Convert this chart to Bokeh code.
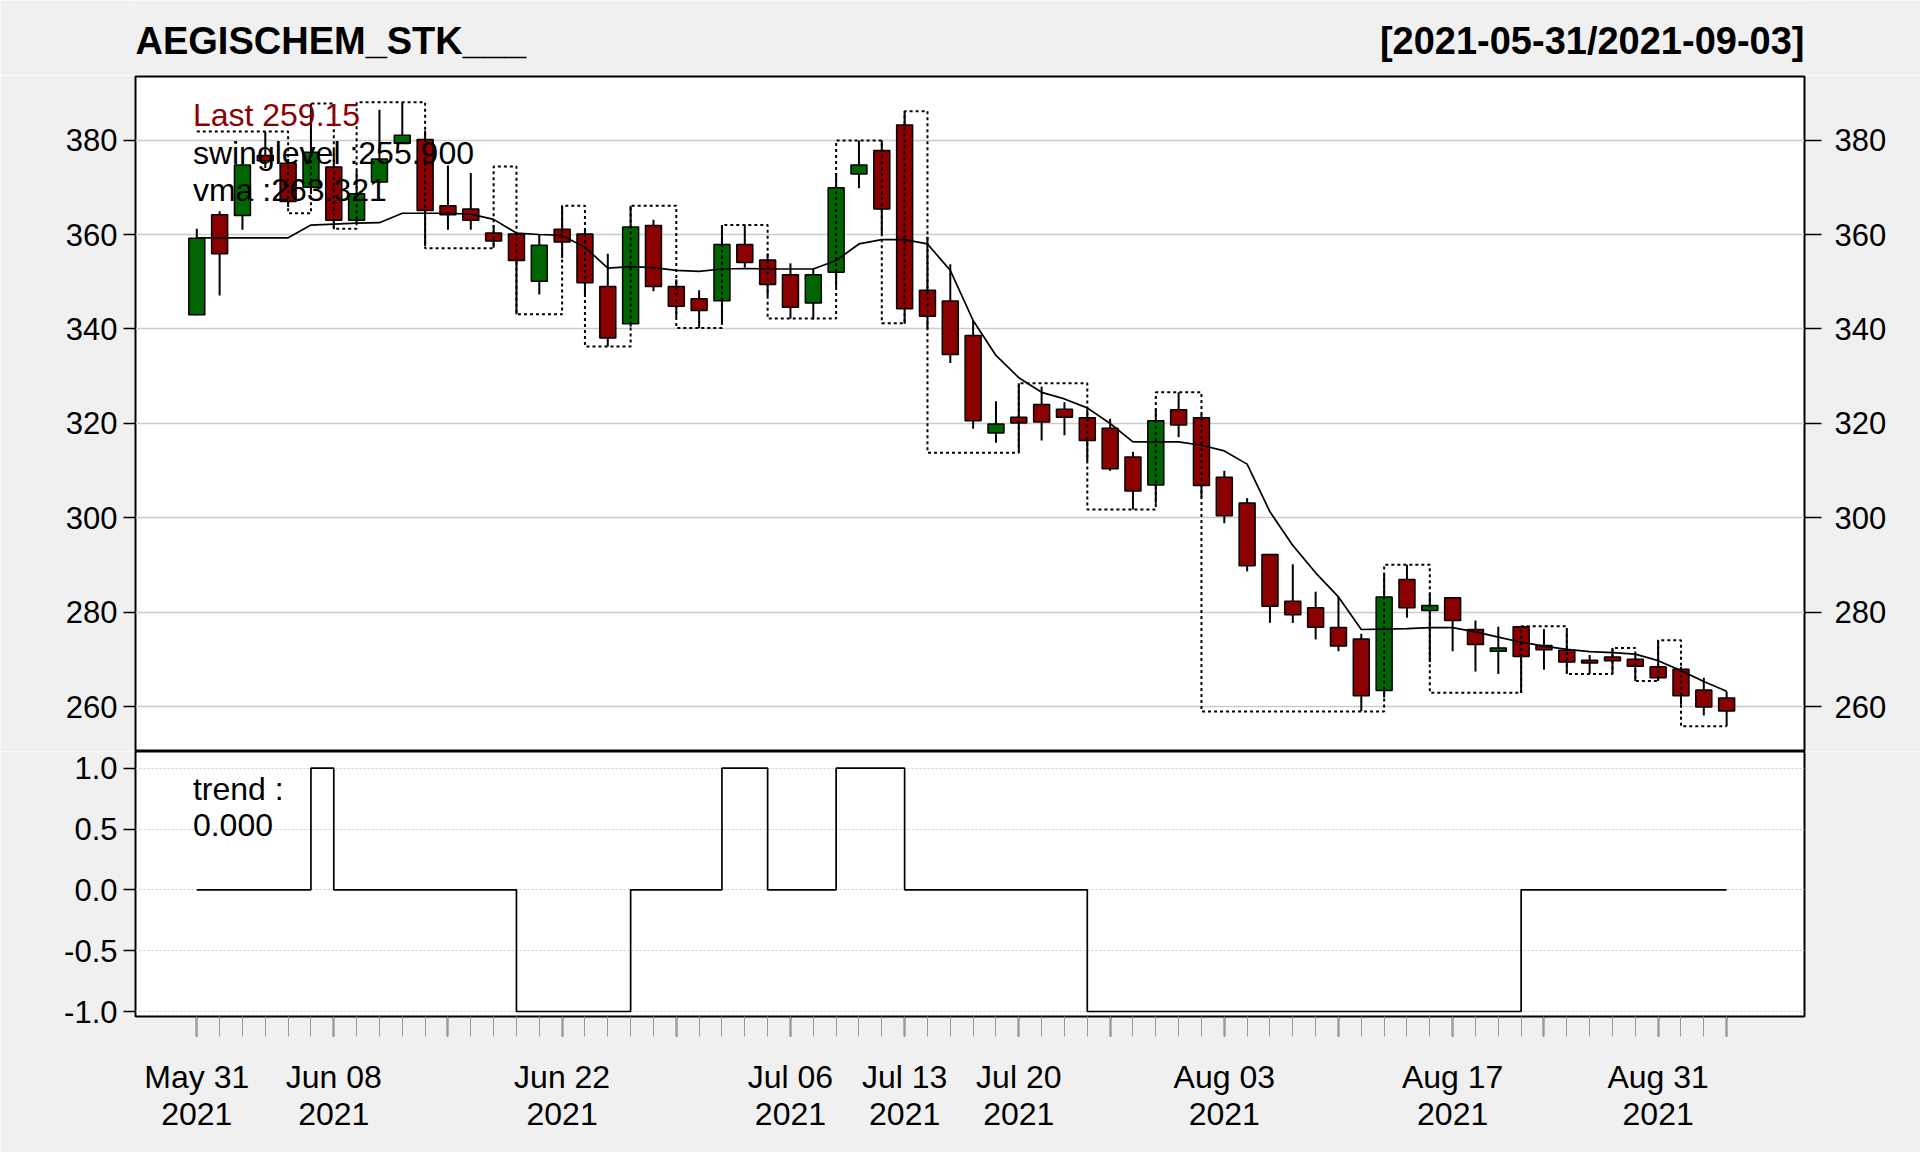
import datetime as dt
from bokeh.plotting import figure
from bokeh.models import Range1d, LinearAxis, FixedTicker, Label, PrintfTickFormatter
from bokeh.layouts import column
from bokeh.embed import file_html
from bokeh.resources import INLINE

# ---------------- data ----------------
dates = [
    "2021-05-31", "2021-06-01", "2021-06-02", "2021-06-03", "2021-06-04",
    "2021-06-07", "2021-06-08", "2021-06-09", "2021-06-10", "2021-06-11",
    "2021-06-14", "2021-06-15", "2021-06-16", "2021-06-17", "2021-06-18",
    "2021-06-21", "2021-06-22", "2021-06-23", "2021-06-24", "2021-06-25",
    "2021-06-28", "2021-06-29", "2021-06-30", "2021-07-01", "2021-07-02",
    "2021-07-05", "2021-07-06", "2021-07-07", "2021-07-08", "2021-07-09",
    "2021-07-12", "2021-07-13", "2021-07-14", "2021-07-15", "2021-07-16",
    "2021-07-19", "2021-07-20", "2021-07-22", "2021-07-23",
    "2021-07-26", "2021-07-27", "2021-07-28", "2021-07-29", "2021-07-30",
    "2021-08-02", "2021-08-03", "2021-08-04", "2021-08-05", "2021-08-06",
    "2021-08-09", "2021-08-10", "2021-08-11", "2021-08-12", "2021-08-13",
    "2021-08-16", "2021-08-17", "2021-08-18", "2021-08-20",
    "2021-08-23", "2021-08-24", "2021-08-25", "2021-08-26", "2021-08-27",
    "2021-08-30", "2021-08-31", "2021-09-01", "2021-09-02", "2021-09-03",
]

opens = [343.0, 364.2, 364.0, 376.7, 375.1, 370.0, 374.3, 363.0, 371.1, 379.3,
         380.1, 366.1, 365.4, 360.3, 360.1, 350.1, 361.1, 360.1, 349.0, 341.1,
         361.9, 349.0, 346.4, 346.0, 357.9, 354.6, 351.5, 345.5, 352.0, 372.8,
         377.8, 383.2, 348.2, 345.9, 338.6, 318.0, 321.3, 324.0, 323.0, 321.2,
         319.0, 312.9, 307.0, 322.9, 321.2, 308.6, 303.2, 292.3, 282.4, 281.0,
         276.8, 274.4, 263.5, 287.0, 280.4, 283.1, 276.4, 271.8, 277.0, 273.0,
         272.0, 269.9, 270.6, 270.1, 268.5, 268.0, 263.6, 261.9]
highs = [361.2, 364.9, 374.8, 381.7, 376.0, 387.7, 378.0, 373.5, 386.4, 388.0,
         382.0, 374.6, 373.0, 362.0, 360.5, 360.1, 366.1, 361.0, 355.9, 366.1,
         363.1, 350.5, 348.2, 362.0, 362.0, 356.0, 353.9, 352.7, 373.0, 379.9,
         379.9, 386.1, 359.5, 353.7, 341.8, 324.7, 328.5, 327.8, 324.5, 323.0,
         321.0, 314.0, 323.0, 326.6, 322.0, 310.0, 304.2, 292.4, 290.2, 284.4,
         283.3, 275.5, 288.0, 290.1, 284.0, 283.1, 278.3, 277.0, 277.1, 276.5,
         276.1, 271.0, 272.5, 271.3, 274.1, 268.5, 266.2, 263.3]
lows = [342.9, 347.1, 361.0, 374.1, 365.8, 368.5, 361.1, 362.3, 370.8, 379.2,
        357.5, 361.0, 361.0, 357.2, 343.1, 347.3, 355.0, 347.0, 336.3, 340.5,
        348.0, 342.5, 340.2, 341.0, 353.0, 347.0, 342.2, 342.0, 348.9, 369.8,
        360.0, 341.1, 340.0, 332.8, 318.9, 315.9, 313.8, 316.4, 317.5, 312.0,
        310.0, 301.8, 303.0, 317.1, 304.4, 298.9, 288.7, 277.8, 277.8, 274.3,
        271.8, 259.1, 262.0, 278.9, 269.5, 271.8, 267.5, 267.0, 263.0, 267.9,
        267.0, 267.0, 267.0, 265.5, 265.5, 260.5, 258.2, 255.9]
closes = [359.2, 355.9, 374.7, 375.6, 367.0, 377.4, 363.0, 368.6, 376.0, 381.0,
          365.1, 364.2, 363.0, 358.6, 354.5, 357.7, 358.4, 349.8, 338.1, 361.6,
          349.0, 344.8, 343.9, 357.9, 354.1, 349.4, 344.6, 351.5, 369.9, 374.7,
          365.4, 344.3, 342.7, 334.6, 320.6, 319.9, 320.1, 320.3, 321.3, 316.4,
          310.4, 305.7, 320.6, 319.7, 306.9, 300.5, 289.9, 281.3, 279.5, 276.9,
          272.9, 262.4, 283.3, 281.0, 281.5, 278.3, 273.2, 272.5, 270.7, 272.1,
          269.5, 269.3, 269.8, 268.6, 266.2, 262.4, 260.0, 259.15]

vma = [359.3, 359.3, 359.3, 359.3, 359.3, 362.0, 362.2, 362.4, 362.5, 364.5,
       364.5, 364.5, 364.3, 363.2, 360.3, 360.0, 359.8, 357.3, 352.9, 353.2,
       353.0, 352.4, 352.2, 352.7, 352.8, 352.7, 352.7, 352.7, 354.5, 358.0,
       358.9, 358.9, 358.0, 352.4, 341.8, 334.4, 329.7, 326.6, 325.2, 323.3,
       320.0, 316.1, 316.1, 316.1, 315.4, 314.2, 311.4, 301.3, 294.2, 288.4,
       283.3, 276.4, 276.5, 276.6, 276.8, 276.8, 275.9, 274.8, 273.7, 272.9,
       272.2, 271.7, 271.5, 271.2, 269.8, 267.7, 265.4, 263.321]

swinglevel = [381.8, 381.8, 381.8, 381.8, 364.5, 387.7, 361.2, 388.0, 388.0, 388.0,
              357.1, 357.1, 357.1, 374.4, 343.1, 343.1, 366.1, 336.3, 336.3, 366.1,
              366.1, 340.2, 340.2, 362.0, 362.0, 342.2, 342.2, 342.2, 379.9, 379.9,
              341.2, 386.1, 313.8, 313.8, 313.8, 313.8, 328.5, 328.5, 328.5, 301.8,
              301.8, 301.8, 326.6, 326.6, 259.05, 259.05, 259.05, 259.05, 259.05, 259.05,
              259.05, 259.05, 290.1, 290.1, 263.0, 263.0, 263.0, 263.0, 277.1, 277.1,
              267.0, 267.0, 272.5, 265.5, 274.1, 255.9, 255.9, 255.9]

trend = [0, 0, 0, 0, 0, 1, 0, 0, 0, 0,
         0, 0, 0, 0, -1, -1, -1, -1, -1, 0,
         0, 0, 0, 1, 1, 0, 0, 0, 1, 1,
         1, 0, 0, 0, 0, 0, 0, 0, 0, -1,
         -1, -1, -1, -1, -1, -1, -1, -1, -1, -1,
         -1, -1, -1, -1, -1, -1, -1, -1, 0, 0,
         0, 0, 0, 0, 0, 0, 0, 0]

price_ticks = [260, 280, 300, 320, 340, 360, 380]
trend_ticks = [-1.0, -0.5, 0.0, 0.5, 1.0]
major_idx = [0, 6, 11, 16, 21, 26, 31, 36, 40, 45, 50, 55, 59, 64, 67]
labeled_idx = [0, 6, 16, 26, 31, 36, 45, 55, 64]
symbol = "AEGISCHEM_STK___"

# ---------------- derived ----------------
x = list(range(len(dates)))
body_top = [max(o, c) for o, c in zip(opens, closes)]
body_bot = [min(o, c) for o, c in zip(opens, closes)]
colors = ["#006400" if c >= o else "#8B0000" for o, c in zip(opens, closes)]

def fmt_label(d):
    t = dt.date.fromisoformat(d)
    return t.strftime("%b %d") + "\n" + t.strftime("%Y")

overrides = {}
for i in major_idx:
    overrides[i] = fmt_label(dates[i]) if i in labeled_idx else ""

FONT = "Liberation Sans"
BG = "#F0F0F0"
W = 1920
BL, BR = 135, 116
XR = Range1d(-2.684, 70.41)

# ---------------- header (titles) ----------------
ph = figure(width=W, height=75, x_range=XR, y_range=Range1d(0, 75),
            output_backend="svg", toolbar_location=None,
            x_axis_location=None, y_axis_location=None,
            min_border_left=BL, min_border_right=BR, min_border_top=0,
            min_border_bottom=0)
ph.background_fill_color = BG
ph.border_fill_color = BG
ph.outline_line_color = None
ph.grid.visible = False
ph.add_layout(Label(x=XR.start, y=35, text=symbol, text_color="black",
                    text_font=FONT, text_font_size="38px", text_font_style="bold",
                    text_baseline="alphabetic", text_align="left"))
ph.add_layout(Label(x=XR.end, y=35, text=f"[{dates[0]}/{dates[-1]}]",
                    text_color="black", text_font=FONT, text_font_size="38px",
                    text_font_style="bold", text_baseline="alphabetic",
                    text_align="right"))

# ---------------- price panel ----------------
p1 = figure(width=W, height=676, x_range=XR, y_range=Range1d(250.58, 393.44),
            output_backend="svg", toolbar_location=None, x_axis_location=None,
            min_border_left=BL, min_border_right=BR, min_border_top=1,
            min_border_bottom=0)
p1.background_fill_color = "white"
p1.border_fill_color = BG
p1.outline_line_color = "black"
p1.outline_line_width = 2
p1.xgrid.visible = False
p1.ygrid.grid_line_color = "#CCCCCC"
p1.ygrid.grid_line_width = 1.5
yt = FixedTicker(ticks=price_ticks)
p1.yaxis.ticker = yt
p1.add_layout(LinearAxis(ticker=yt), "right")
for ax in p1.yaxis:
    ax.axis_line_color = None
    ax.major_tick_in = 0
    ax.major_tick_line_width = 1.5
    ax.major_tick_line_color = "black"
    ax.minor_tick_line_color = None
    ax.major_label_text_font = FONT
    ax.major_label_text_font_size = "31px"
    ax.major_label_text_color = "black"
p1.left[0].major_tick_out = 12
p1.left[0].major_label_standoff = 6
p1.right[0].major_tick_out = 17
p1.right[0].major_label_standoff = 13

p1.segment(x0=x, y0=lows, x1=x, y1=highs, line_color="black", line_width=2)
p1.vbar(x=x, width=0.7, top=body_top, bottom=body_bot, fill_color=colors,
        line_color="black", line_width=1.5)
p1.line(x, vma, line_color="black", line_width=1.7)
p1.step(x, swinglevel, mode="after", line_color="black", line_width=2,
        line_dash="3 3")

LX = -0.17
p1.add_layout(Label(x=LX, y=385.2, text=f"Last {closes[-1]}", text_color="#8B0000",
                    text_font=FONT, text_font_size="32px", text_baseline="alphabetic"))
p1.add_layout(Label(x=LX, y=377.3, text=f"swinglevel :{swinglevel[-1]:.3f}",
                    text_color="black", text_font=FONT, text_font_size="32px",
                    text_baseline="alphabetic"))
p1.add_layout(Label(x=LX, y=369.4, text=f"vma :{vma[-1]:.3f}", text_color="black",
                    text_font=FONT, text_font_size="32px", text_baseline="alphabetic"))

# ---------------- trend panel ----------------
p2 = figure(width=W, height=401, x_range=XR, y_range=Range1d(-1.041, 1.137),
            output_backend="svg", toolbar_location=None,
            min_border_left=BL, min_border_right=BR, min_border_top=0,
            min_border_bottom=136)
p2.background_fill_color = "white"
p2.border_fill_color = BG
p2.outline_line_color = "black"
p2.outline_line_width = 2
p2.xgrid.visible = False
p2.ygrid.grid_line_color = "#CCCCCC"
p2.ygrid.grid_line_dash = "2 2"
p2.ygrid.grid_line_width = 1.2
p2.yaxis.ticker = FixedTicker(ticks=trend_ticks)
p2.yaxis.formatter = PrintfTickFormatter(format="%.1f")
for ax in p2.yaxis:
    ax.axis_line_color = None
    ax.major_tick_out = 12
    ax.major_tick_in = 0
    ax.major_tick_line_width = 1.5
    ax.major_tick_line_color = "black"
    ax.minor_tick_line_color = None
    ax.major_label_text_font = FONT
    ax.major_label_text_font_size = "31px"
    ax.major_label_text_color = "black"
    ax.major_label_standoff = 6

p2.xaxis.ticker = FixedTicker(ticks=major_idx, minor_ticks=x)
p2.xaxis.major_label_overrides = overrides
for ax in p2.xaxis:
    ax.axis_line_color = None
    ax.major_tick_out = 20
    ax.major_tick_in = 0
    ax.major_tick_line_width = 1.5
    ax.major_tick_line_color = "black"
    ax.minor_tick_out = 20
    ax.minor_tick_in = 0
    ax.minor_tick_line_color = "#999999"
    ax.minor_tick_line_width = 1
    ax.major_label_text_font = FONT
    ax.major_label_text_font_size = "32px"
    ax.major_label_text_color = "black"
    ax.major_label_text_line_height = 1.05
    ax.major_label_standoff = 22

p2.step(x, trend, mode="after", line_color="black", line_width=1.7)
p2.add_layout(Label(x=LX, y=0.83, text="trend :", text_color="black",
                    text_font=FONT, text_font_size="32px", text_baseline="alphabetic"))
p2.add_layout(Label(x=LX, y=0.53, text=f"{trend[-1]:.3f}", text_color="black",
                    text_font=FONT, text_font_size="32px", text_baseline="alphabetic"))

layout = column(ph, p1, p2, spacing=0)
open("out.html", "w").write(file_html(layout, INLINE))
